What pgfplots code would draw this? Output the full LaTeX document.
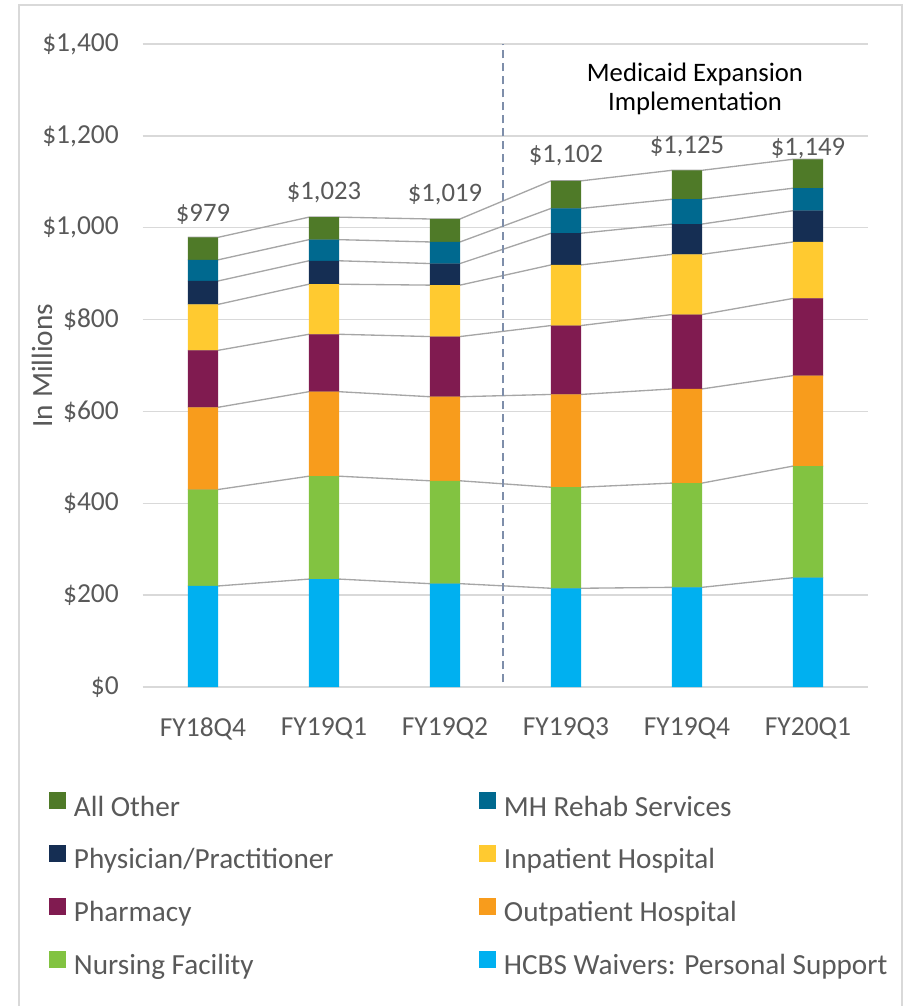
\documentclass[border=0pt]{standalone}
\usepackage{pgfplots}
\pgfplotsset{compat=1.18}
\usepackage{pgfplotstable}
\usepackage{fontspec}
\setmainfont{Carlito}
\definecolor{cHCBS}{HTML}{00B0F0}
\definecolor{cNF}{HTML}{82C341}
\definecolor{cOut}{HTML}{F89C1C}
\definecolor{cPh}{HTML}{801B50}
\definecolor{cInp}{HTML}{FFCA30}
\definecolor{cPhys}{HTML}{152E53}
\definecolor{cMH}{HTML}{00698F}
\definecolor{cOth}{HTML}{4F7A28}
\definecolor{txt}{HTML}{595959}
\definecolor{gridc}{HTML}{D9D9D9}
\definecolor{conn}{HTML}{A6A6A6}
\definecolor{dashc}{HTML}{7E8EAA}

\pgfplotstableread{
x hcbs nf out pharm inp phys mh other
0 220 210 179 124 100 51 46 49
1 235 224 184 125 109 51 46 49
2 225 224 183 131 112 47 47 50
3 215 220 202 150 132 69 54 60
4 217 227 205 162 131 66 54 63
5 238 243 197 168 123 68 49 63
}\data

\newcommand\bigfont{\fontsize{20}{24}\selectfont}
\newcommand\tickfont{\fontsize{20.6}{24}\selectfont}
\newcommand\labfont{\fontsize{22}{26}\selectfont}
\newcommand\legfont{\fontsize{21.9}{26}\selectfont}

\begin{document}
\begin{tikzpicture}
\useasboundingbox (0,0) rectangle (683.25pt,-754.5pt);
\draw[gridc, line width=1.5pt] (13.875pt,-760pt) -- (13.875pt,-3.75pt) -- (676.3pt,-3.75pt) -- (676.3pt,-760pt);
\pgfplotsset{base/.style={scale only axis, width=544.5pt, height=482.25pt,
  at={(106.875pt,-515.25pt)}, anchor=south west,
  xmin=-0.5, xmax=5.5, ymin=0, ymax=1400, enlargelimits=false}}

\begin{axis}[base,
  axis line style={draw=none}, major tick length=0pt,
  ymajorgrids, grid style={gridc, line width=1pt},
  ytick={0,200,...,1400},
  xtick={0,...,5},
  xticklabels={FY18Q4,FY19Q1,FY19Q2,FY19Q3,FY19Q4,FY20Q1},
  /pgf/number format/assume math mode=true,
  /pgf/number format/1000 sep={,},
  yticklabel={\$\pgfmathprintnumber{\tick}},
  yticklabel style={anchor=east, inner sep=0pt, xshift=-17.6pt, font=\tickfont, text=txt},
  xticklabel style={anchor=north, inner sep=0pt, yshift=-22.5pt, font=\tickfont, text=txt},
  ylabel={In Millions},
  every axis y label/.style={at={(axis description cs:-0.1384,0.5)}, rotate=90, anchor=center, font=\labfont, text=txt},
  clip=false]
\addplot[conn, line width=1pt] coordinates {(-0.124,220)(0.124,220)(0.876,235)(1.124,235)(1.876,225)(2.124,225)(2.876,215)(3.124,215)(3.876,217)(4.124,217)(4.876,238)(5.124,238)};
\addplot[conn, line width=1pt] coordinates {(-0.124,430)(0.124,430)(0.876,459)(1.124,459)(1.876,449)(2.124,449)(2.876,435)(3.124,435)(3.876,444)(4.124,444)(4.876,481)(5.124,481)};
\addplot[conn, line width=1pt] coordinates {(-0.124,609)(0.124,609)(0.876,643)(1.124,643)(1.876,632)(2.124,632)(2.876,637)(3.124,637)(3.876,649)(4.124,649)(4.876,678)(5.124,678)};
\addplot[conn, line width=1pt] coordinates {(-0.124,733)(0.124,733)(0.876,768)(1.124,768)(1.876,763)(2.124,763)(2.876,787)(3.124,787)(3.876,811)(4.124,811)(4.876,846)(5.124,846)};
\addplot[conn, line width=1pt] coordinates {(-0.124,833)(0.124,833)(0.876,877)(1.124,877)(1.876,875)(2.124,875)(2.876,919)(3.124,919)(3.876,942)(4.124,942)(4.876,969)(5.124,969)};
\addplot[conn, line width=1pt] coordinates {(-0.124,884)(0.124,884)(0.876,928)(1.124,928)(1.876,922)(2.124,922)(2.876,988)(3.124,988)(3.876,1008)(4.124,1008)(4.876,1037)(5.124,1037)};
\addplot[conn, line width=1pt] coordinates {(-0.124,930)(0.124,930)(0.876,974)(1.124,974)(1.876,969)(2.124,969)(2.876,1042)(3.124,1042)(3.876,1062)(4.124,1062)(4.876,1086)(5.124,1086)};
\addplot[conn, line width=1pt] coordinates {(-0.124,979)(0.124,979)(0.876,1023)(1.124,1023)(1.876,1019)(2.124,1019)(2.876,1102)(3.124,1102)(3.876,1125)(4.124,1125)(4.876,1149)(5.124,1149)};
\addplot[dashc, line width=1.5pt, dash pattern=on 6pt off 3.75pt] coordinates {(2.48,10)(2.48,1400)};
\addplot[draw=none, mark=none, nodes near coords, point meta=explicit symbolic,
  every node near coord/.style={anchor=base, inner sep=0pt, font=\bigfont, text=txt}]
  coordinates {(0,1013)[{\$979}] (1,1062)[{\$1,023}] (2,1057)[{\$1,019}] (3,1142)[{\$1,102}] (4,1162)[{\$1,125}] (5,1158)[{\$1,149}]};
\end{axis}

\begin{axis}[base, hide axis, ybar stacked, bar width=0.248,
  legend columns=2, reverse legend, legend cell align=left,
  legend image code/.code={\fill[#1] (0pt,0pt) rectangle (12.75pt,12.75pt); \path (18.75pt,0pt);},
  legend style={at={(axis description cs:-0.1288,-0.1638)}, anchor=north west,
    draw=none, fill=none, inner sep=0pt, outer sep=0pt, column sep=0pt, row sep=17.9pt,
    nodes={inner sep=0pt, text height=14pt, text depth=4pt, font=\legfont, text=txt}}]
\addplot[fill=cHCBS, draw=none] table[x=x, y=hcbs]{\data};
\addlegendentry{HCBS Waivers: Personal Support}
\addplot[fill=cNF, draw=none] table[x=x, y=nf]{\data};
\addlegendentry{\makebox[303.75pt][l]{Nursing Facility}}
\addplot[fill=cOut, draw=none] table[x=x, y=out]{\data};
\addlegendentry{Outpatient Hospital}
\addplot[fill=cPh, draw=none] table[x=x, y=pharm]{\data};
\addlegendentry{\makebox[303.75pt][l]{Pharmacy}}
\addplot[fill=cInp, draw=none] table[x=x, y=inp]{\data};
\addlegendentry{Inpatient Hospital}
\addplot[fill=cPhys, draw=none] table[x=x, y=phys]{\data};
\addlegendentry{\makebox[303.75pt][l]{Physician/Practitioner}}
\addplot[fill=cMH, draw=none] table[x=x, y=mh]{\data};
\addlegendentry{MH Rehab Services}
\addplot[fill=cOth, draw=none] table[x=x, y=other]{\data};
\addlegendentry{\makebox[303.75pt][l]{All Other}}
\end{axis}

\node[anchor=base, inner sep=0pt, font=\bigfont, text=black] at (521.25pt,-60.75pt) {Medicaid Expansion};
\node[anchor=base, inner sep=0pt, font=\bigfont, text=black] at (521.25pt,-82.5pt) {Implementation};
\end{tikzpicture}
\end{document}
